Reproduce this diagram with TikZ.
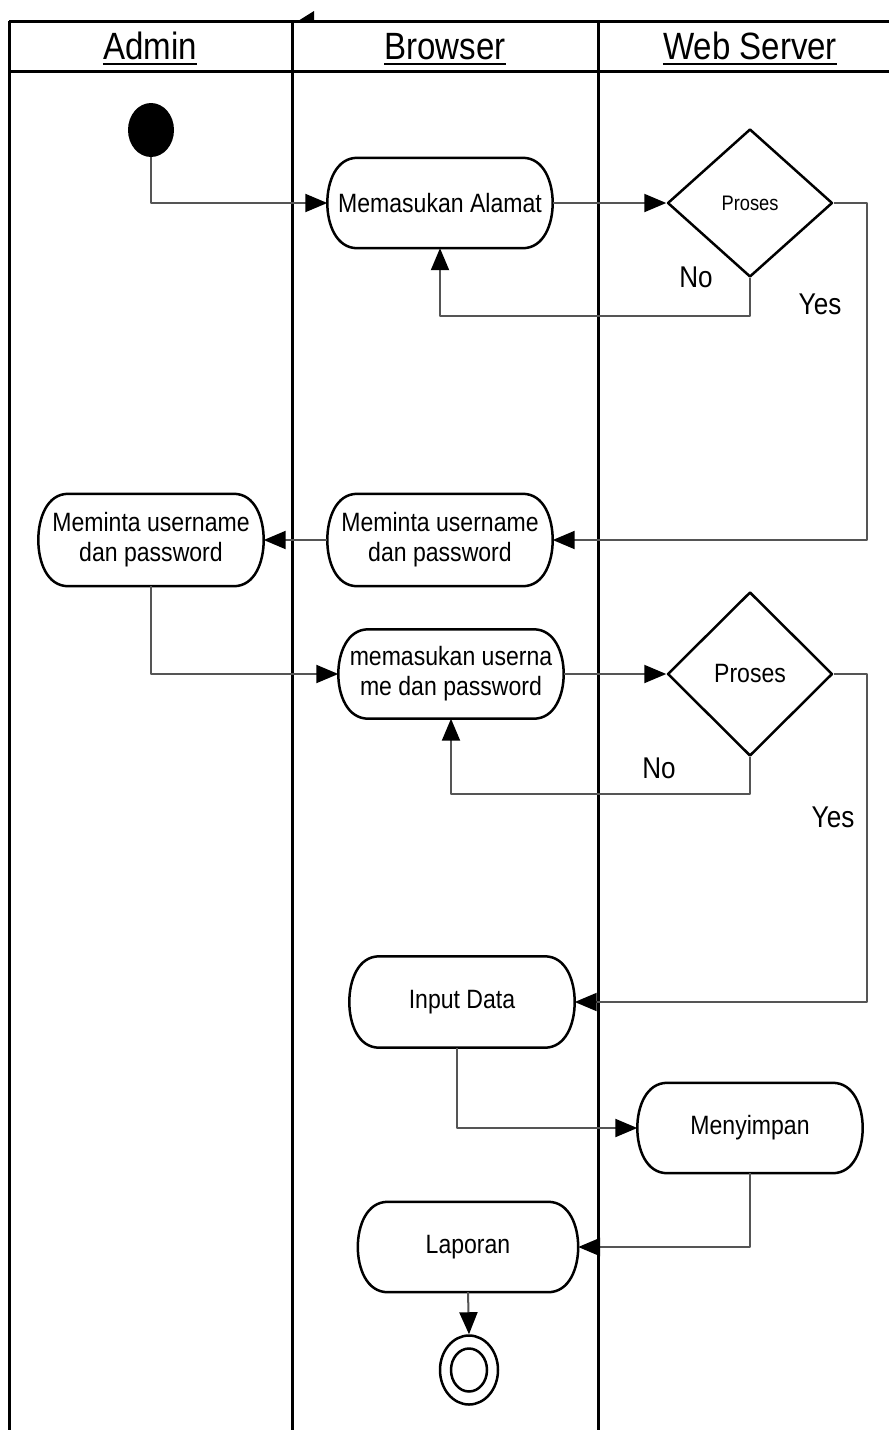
\documentclass[tikz,border=0pt]{standalone}
\usepackage{fontspec}
\setmainfont{Liberation Sans}[FakeStretch=0.87]
\usetikzlibrary{shapes.geometric,arrows.meta}
\definecolor{conncol}{RGB}{85,85,85}
\newcommand\stadium[1]{\draw[boxline] ([xshift=30pt]#1.north west) -- ([xshift=-30pt]#1.north east) to[out=0,in=90] (#1.east) to[out=-90,in=0] ([xshift=-30pt]#1.south east) -- ([xshift=30pt]#1.south west) to[out=180,in=-90] (#1.west) to[out=90,in=180] ([xshift=30pt]#1.north west) -- cycle;}
\begin{document}
\begin{tikzpicture}[x=1pt,y=1pt,line join=round,
  lane/.style={line width=3pt,black},
  boxline/.style={line width=2.5pt,black},
  conn/.style={line width=2pt,conncol,-{Triangle[length=22pt,width=18pt,color=black]}},
  act/.style={inner sep=0pt,minimum width=225pt,minimum height=90pt,align=center,font=\fontsize{26.5}{30}\selectfont},
  dec/.style={diamond,draw,line width=2.5pt,inner sep=0pt,minimum width=165pt},
  lbl/.style={font=\fontsize{30}{36}\selectfont,inner sep=0pt},
  hdr/.style={font=\fontsize{38}{44}\selectfont,inner sep=0pt,anchor=base},
  uline/.style={line width=2.5pt,black}]
\useasboundingbox (0,0) rectangle (889,-1430);
% swimlanes
\draw[lane] (9,-21) -- (889,-21);
\draw[lane] (9,-71) -- (889,-71);
\draw[lane] (9,-21) -- (9,-1430);
\draw[lane] (292,-21) -- (292,-1430);
\draw[lane] (598,-21) -- (598,-1430);
\fill (298,-21) -- (314,-11) -- (314,-21) -- cycle;
% headers
\node[hdr] (hA) at (150,-59) {Admin};
\node[hdr] (hB) at (445,-59) {Browser};
\node[hdr] (hW) at (750,-59) {Web Server};
\draw[uline] ([yshift=-5pt]hA.base west) -- ([yshift=-5pt]hA.base east);
\draw[uline] ([yshift=-5pt]hB.base west) -- ([yshift=-5pt]hB.base east);
\draw[uline] ([yshift=-5pt]hW.base west) -- ([yshift=-5pt]hW.base east);
% nodes
\node[fill=black,ellipse,minimum width=46pt,minimum height=54pt,inner sep=0pt] (st) at (151,-130) {};
\node[act] (mA) at (440,-203) {Memasukan Alamat};
\node[dec,minimum height=148pt,font=\fontsize{21}{25}\selectfont] (d1) at (750,-203) {Proses};
\node[act,minimum height=92pt] (mB) at (440,-540) {Meminta username\\dan password};
\node[act,minimum height=92pt] (aM) at (151,-540) {Meminta username\\dan password};
\node[act,minimum height=89pt] (mU) at (451,-674) {memasukan userna\\me dan password};
\node[dec,minimum height=164pt,font=\fontsize{26.5}{30}\selectfont] (d2) at (750,-674) {Proses};
\node[act,minimum height=91pt] (iD) at (462,-1002) {Input Data};
\node[act] (mS) at (750,-1128) {Menyimpan};
\node[act,minimum width=220pt] (lap) at (468,-1247) {Laporan};
\node[ellipse,draw,boxline,minimum width=58pt,minimum height=69pt,inner sep=0pt] (en) at (469,-1370) {};
\node[ellipse,draw,boxline,minimum width=36pt,minimum height=43pt,inner sep=0pt] (en2) at (469,-1370) {};
\stadium{mA}
\stadium{mB}
\stadium{aM}
\stadium{mU}
\stadium{iD}
\stadium{mS}
\stadium{lap}
% labels
\node[lbl] (no1) at (696,-277) {No};
\node[lbl] (yes1) at (820,-304) {Yes};
\node[lbl] (no2) at (659,-768) {No};
\node[lbl] (yes2) at (833,-817) {Yes};
% connectors
\draw[conn] (st.south) |- (mA.west);
\draw[conn] (mA.east) -- (d1.west);
\draw[conn] (d1.south) -- ++(0,-38) -| (mA.south);
\draw[conn] (d1.east) -- ++(33,0) |- (mB.east);
\draw[conn] (mB.west) -- (aM.east);
\draw[conn] (aM.south) |- (mU.west);
\draw[conn] (mU.east) -- (d2.west);
\draw[conn] (d2.south) -- ++(0,-37) -| (mU.south);
\draw[conn] (d2.east) -- ++(33,0) |- (iD.east);
\draw[conn] ([xshift=-5pt]iD.south) |- (mS.west);
\draw[conn] (mS.south) |- (lap.east);
\draw[conn] (lap.south) -- (en.north);
\end{tikzpicture}
\end{document}
